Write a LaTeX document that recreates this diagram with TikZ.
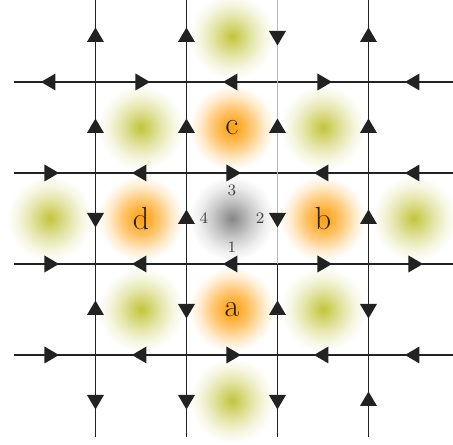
\documentclass[tikz,border=0pt]{standalone}
\usetikzlibrary{positioning}
\definecolor{ink}{HTML}{222222}
\definecolor{olive}{HTML}{C2C43A}
\definecolor{amber}{HTML}{FFA010}
\definecolor{smoke}{HTML}{858585}
\definecolor{faint}{HTML}{BBBBBB}
\pgfdeclareradialshading{oliveglow}{\pgfpoint{0bp}{0bp}}{color(0bp)=(olive);color(5bp)=(olive!75);color(12bp)=(olive!42);color(19bp)=(olive!15);color(25bp)=(white);color(50bp)=(white)}
\pgfdeclareradialshading{amberglow}{\pgfpoint{0bp}{0bp}}{color(0bp)=(amber);color(5bp)=(amber!85);color(12bp)=(amber!55);color(19bp)=(amber!20);color(25bp)=(white);color(50bp)=(white)}
\pgfdeclareradialshading{smokeglow}{\pgfpoint{0bp}{0bp}}{color(0bp)=(smoke);color(5bp)=(smoke!75);color(12bp)=(smoke!42);color(19bp)=(smoke!15);color(25bp)=(white);color(50bp)=(white)}
\tikzset{
  gridline/.style={draw=ink,line width=.8pt},
  ghostline/.style={draw=faint,line width=.4pt},
  blob/.style={shading=#1glow},
  tri/.pic={\fill[ink] (4.5pt,0) -- (-2.75pt,4.25pt) -- (-2.75pt,-4.25pt) -- cycle;},
  site/.style={font=\fontsize{16}{19}\selectfont,text=ink,inner sep=0pt},
  leg/.style={font=\footnotesize,text=ink!85,inner sep=0pt},
}

\begin{document}
\begin{tikzpicture}[x=45.5pt,y=45.5pt]
  \useasboundingbox (-2.549,-2.489) rectangle (2.429,2.401);
  % blobs
  \foreach \x/\y in {-1/1,1/1,-1/-1,1/-1,0/2,0/-2,-2/0,2/0}
    \shade[blob=olive] (\x,\y) circle (.47);
  \foreach \x/\y in {0/1,0/-1,-1/0,1/0}
    \shade[blob=amber] (\x,\y) circle (.47);
  \shade[blob=smoke] (0,0) circle (.47);

  % lattice
  \foreach \y in {1.5,.5,-.5,-1.5}
    \draw[gridline] (-2.396,\y) -- (2.429,\y);
  \foreach \x in {-1.5,-.5,1.5}
    \draw[gridline] (\x,2.401) -- (\x,-2.401);
  \draw[ghostline] (.5,2.401) -- (.5,-.5);
  \draw[gridline] (.5,-.5) -- (.5,-2.401);

  % arrow heads
  \foreach \y/\dirs in {1.5/{180,0,180,0,180},.5/{0,180,0,180,180},-.5/{0,180,180,0,0},-1.5/{0,180,0,180,180}}
    \foreach \a [count=\i] in \dirs
      \pic[rotate=\a] at (\i-3,\y) {tri};
  \foreach \x/\dirs in {-1.5/{90,90,270,90,270},-.5/{90,90,90,270,270},.5/{270,90,270,90,270},1.5/{90,90,90,270,90}}
    \foreach \a [count=\i] in \dirs
      \pic[rotate=\a] at (\x,3-\i) {tri};

  % labels
  \node[site] (a) at (0,-1) {a};
  \node[site] (b) at (1,0) {b};
  \node[site] (c) at (0,1) {c};
  \node[site] (d) at (-1,0) {d};
  \node[leg] (one) at (0,-.31) {1};
  \node[leg] (two) at (.31,0) {2};
  \node[leg] (three) at (0,.31) {3};
  \node[leg] (four) at (-.31,0) {4};
\end{tikzpicture}
\end{document}
